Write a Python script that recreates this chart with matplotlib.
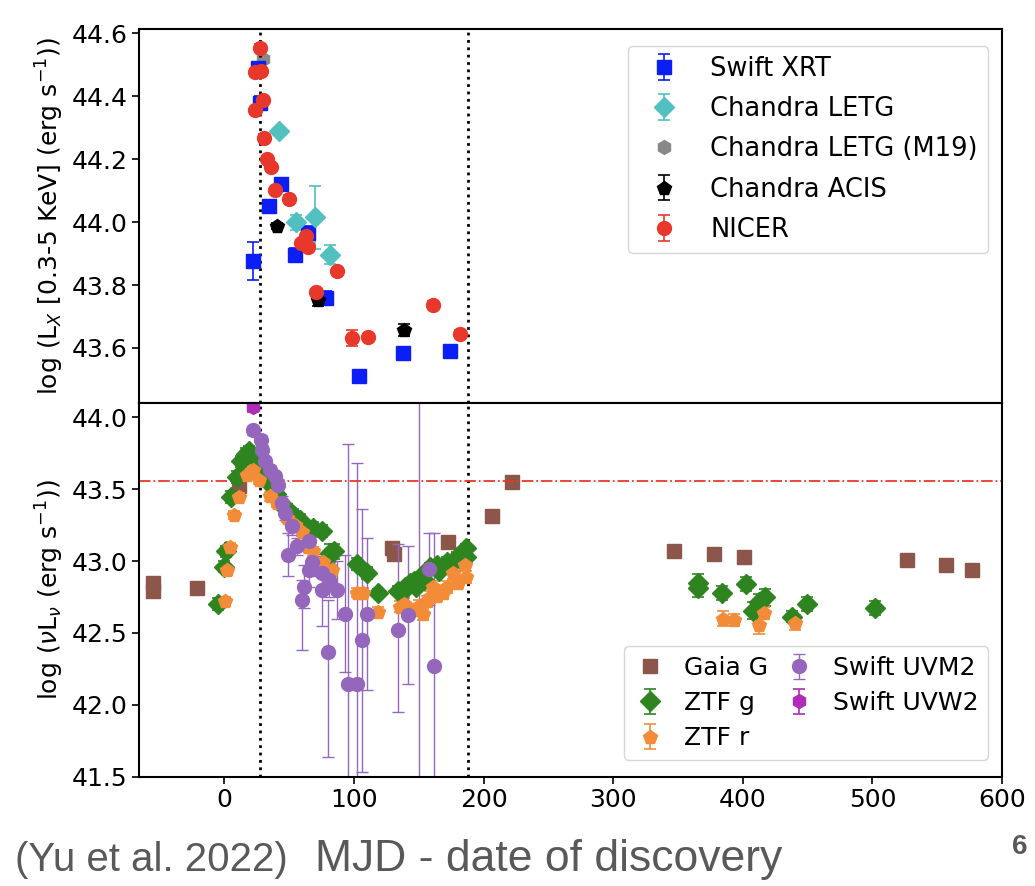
import matplotlib
matplotlib.use("Agg")
import matplotlib.pyplot as plt
import numpy as np

# ---- X-ray (top panel) ----
xrt_x = [22.1, 26.3, 27.5, 34.5, 43.5, 54.3, 64.3, 78.7, 103.9, 138.1, 174.2]
xrt_y = [43.877, 44.49, 44.38, 44.052, 44.12, 43.897, 43.967, 43.76, 43.51, 43.583, 43.59]
xrt_e = [0.06, 0.02, 0.02, 0.02, 0.02, 0.02, 0.02, 0.02, 0.02, 0.02, 0.02]

letg_x = [42.2, 55.1, 70.2, 81.6]
letg_y = [44.29, 43.999, 44.015, 43.897]
letg_e = [0.01, 0.025, 0.1, 0.03]

m19_x = [30.1]
m19_y = [44.52]

acis_x = [40.4, 72.1, 138.7]
acis_y = [43.988, 43.754, 43.657]
acis_e = [0.01, 0.02, 0.02]

nicer_x = [27.5, 23.7, 28.3, 29.6, 23.9, 30.6, 32.7, 36.0, 38.9, 49.7, 59.2, 63.0,
           64.8, 86.7, 70.5, 98.3, 110.6, 160.8, 181.9]
nicer_y = [44.555, 44.476, 44.48, 44.388, 44.356, 44.269, 44.2, 44.174, 44.102, 44.075,
           43.934, 43.955, 43.921, 43.844, 43.777, 43.632, 43.635, 43.738, 43.646]
nicer_e = [0.01] * 15 + [0.025, 0.01, 0.01, 0.01]

# ---- UV / optical (bottom panel) ----
gaia_x = [-55, -55, -21.3, 11.6, 129, 131, 172.4, 206.3, 222.2, 347.2, 377.9, 401.0,
          526.5, 556.9, 576.7]
gaia_y = [42.85, 42.79, 42.81, 43.524, 43.09, 43.05, 43.13, 43.316, 43.552, 43.067,
          43.05, 43.032, 43.009, 42.972, 42.94]

ztfg_x = [-4.6, 0.0, 1.1, 4.9, 9.6, 13.1, 16.5, 19.3, 22.9, 27.5, 30.0, 33.0, 37.0,
          40.0, 44.0, 48.0, 53.2, 58.4, 68.2, 75.6, 81.6, 84.6, 102.2, 109.9, 118.8,
          133.8, 136.0, 139.6, 143.3, 146.0, 148.0, 151.0, 154.0, 159.0, 163.9, 166.0,
          171.6, 175.0, 179.3, 183.0, 186.3, 186.8,
          365.5, 365.8, 384.3, 402.3, 407.7, 412.8, 417.2, 437.8, 449.4, 502.1]
ztfg_y = [42.703, 42.962, 43.067, 43.446, 43.585, 43.694, 43.745, 43.763, 43.724,
          43.66, 43.62, 43.58, 43.52, 43.47, 43.40, 43.36, 43.322, 43.288, 43.23, 43.211,
          43.056, 43.067, 42.979, 42.916, 42.777,
          42.795, 42.78, 42.82, 42.847, 42.86, 42.82, 42.89, 42.87, 42.96, 42.974, 42.93,
          42.997, 42.98, 43.032, 43.0, 43.09, 43.03,
          42.851, 42.81, 42.777, 42.84, 42.654, 42.714, 42.747, 42.614, 42.70, 42.673]
ztfg_e = [0.04] * 20 + [0.06, 0.05, 0.04, 0.04, 0.03] + [0.03] * 17 + \
         [0.06, 0.06, 0.05, 0.05, 0.06, 0.06, 0.06, 0.04, 0.05, 0.05]

ztfr_x = [0.5, 2.3, 4.4, 7.5, 11.3, 17.3, 22.4, 27.0, 35.3, 40.4, 48.1, 54.6, 59.7,
          64.8, 68.7, 76.4, 82.9, 102.2, 107.3, 118.8,
          135.6, 139.0, 142.0, 147.1, 150.0, 153.5, 156.0, 158.5, 161.3, 164.0, 169.0,
          172.0, 176.7, 180.0, 185.7, 186.5,
          384.6, 393.5, 412.3, 416.7, 440.6]
ztfr_y = [42.719, 42.935, 43.095, 43.322, 43.446, 43.601, 43.636, 43.566, 43.45, 43.404,
          43.30, 43.253, 43.206, 43.10, 43.067, 42.997, 42.94, 42.781, 42.78, 42.649,
          42.684, 42.70, 42.66, 42.661, 42.69, 42.63, 42.72, 42.75, 42.823, 42.76, 42.777,
          42.82, 42.916, 42.85, 42.974, 42.89,
          42.60, 42.589, 42.556, 42.638, 42.572]
ztfr_e = [0.03] * 20 + [0.04] * 16 + [0.05, 0.04, 0.06, 0.04, 0.05]

uvm2_x = [22.4, 28.1, 28.9, 31.4, 35.3, 39.1, 41.7, 44.3, 46.8, 52.0, 49.4, 55.9,
          59.7, 61.5, 65.6, 65.6, 67.9, 75.6, 75.6, 80.8, 80.2, 86.7, 93.1, 95.7,
          102.6, 106.5, 110.3, 133.8, 142.0, 150.5, 158.0, 161.8]
uvm2_y = [43.91, 43.845, 43.775, 43.694, 43.636, 43.589, 43.531, 43.404, 43.334, 43.241,
          43.044, 43.102, 42.73, 42.823, 43.143, 42.94, 42.997, 42.916, 42.8, 42.87,
          42.37, 42.80, 42.63, 42.146, 42.146, 42.452, 42.63, 42.52, 42.626, 41.2,
          42.944, 42.273]
uvm2_lo = [0.03, 0.03, 0.03, 0.03, 0.03, 0.03, 0.04, 0.05, 0.05, 0.06, 0.15, 0.06,
           0.35, 0.15, 0.08, 0.12, 0.1, 0.12, 0.25, 0.12, 0.73, 0.2, 0.4, 1.67, 1.54,
           0.92, 0.53, 0.57, 0.48, 3.2, 0.25, 0.93]
uvm2_hi = [0.03, 0.03, 0.03, 0.03, 0.03, 0.03, 0.04, 0.05, 0.05, 0.06, 0.15, 0.06,
           0.14, 0.15, 0.08, 0.12, 0.1, 0.12, 0.25, 0.12, 0.36, 0.2, 0.41, 1.67, 1.54,
           0.91, 0.53, 0.6, 0.48, 3.2, 0.25, 0.92]

uvw2_x = [22.4]
uvw2_y = [44.07]

t_lines = [27.3, 187.8]
lim_line = 43.56

plt.rcParams["font.family"] = "DejaVu Sans"
plt.rcParams["axes.linewidth"] = 1.5

fig = plt.figure(figsize=(10.35, 8.86), dpi=100)
ax1 = fig.add_axes([0.1346, 0.5451, 0.8335, 0.4218])
ax2 = fig.add_axes([0.1346, 0.1234, 0.8335, 0.4217], sharex=ax1)

ms = 10
eb = dict(ls="none", capsize=4, elinewidth=1.2, capthick=1.2)

h_xrt = ax1.errorbar(xrt_x, xrt_y, yerr=xrt_e, fmt="s", color="#0a1ef5", ms=ms, label="Swift XRT", **eb)
h_letg = ax1.errorbar(letg_x, letg_y, yerr=letg_e, fmt="D", color="#52c0c0", ms=ms, label="Chandra LETG", **eb)
h_m19, = ax1.plot(m19_x, m19_y, "h", color="#888888", ms=ms, ls="none", label="Chandra LETG (M19)")
h_acis = ax1.errorbar(acis_x, acis_y, yerr=acis_e, fmt="p", color="black", ms=ms, label="Chandra ACIS", **eb)
h_nic = ax1.errorbar(nicer_x, nicer_y, yerr=nicer_e, fmt="o", color="#e8382b", ms=ms, label="NICER", **eb)

for t in t_lines:
    ax1.axvline(t, color="black", ls=":", lw=2)
    ax2.axvline(t, color="black", ls=":", lw=2)

ax1.set_ylim(43.425, 44.613)
ax1.set_yticks([43.6, 43.8, 44.0, 44.2, 44.4, 44.6])
ax1.tick_params(axis="x", bottom=False, labelbottom=False)
ax1.tick_params(axis="y", labelsize=18, length=5, width=1.2)
ax1.set_ylabel(r"log (L$_X$ [0.3-5 KeV] (erg s$^{-1}$))", fontsize=18)
hs = [h_xrt, h_letg, h_m19, h_acis, h_nic]
ax1.legend(hs, [h.get_label() for h in hs], loc="upper right", fontsize=18.5,
           bbox_to_anchor=(0.9985, 0.99), labelspacing=0.55)

h_gaia, = ax2.plot(gaia_x, gaia_y, "s", color="#8c564b", ms=ms, ls="none", label="Gaia G")
h_g = ax2.errorbar(ztfg_x, ztfg_y, yerr=ztfg_e, fmt="D", color="#2e8520", ms=ms, label="ZTF g", **eb)
h_r = ax2.errorbar(ztfr_x, ztfr_y, yerr=ztfr_e, fmt="p", color="#f28c38", ms=ms, label="ZTF r", **eb)
h_m2 = ax2.errorbar(uvm2_x, uvm2_y, yerr=[uvm2_lo, uvm2_hi], fmt="o", color="#9467bd", ms=ms,
                    label="Swift UVM2", ls="none", capsize=4, elinewidth=1, capthick=1)
h_w2 = ax2.errorbar(uvw2_x, uvw2_y, yerr=0.03, fmt="h", color="#b02cb8", ms=ms, label="Swift UVW2", **eb)
ax2.axhline(lim_line, color="#e8382b", ls="-.", lw=1.3)

ax2.set_xlim(-65.6, 600)
ax2.set_ylim(41.5, 44.1)
ax2.set_yticks([41.5, 42.0, 42.5, 43.0, 43.5, 44.0])
ax2.set_xticks([0, 100, 200, 300, 400, 500, 600])
ax2.tick_params(labelsize=18, length=5, width=1.2)
ax2.set_ylabel(r"log ($\nu$L$_\nu$ (erg s$^{-1}$))", fontsize=18)
hs2 = [h_gaia, h_g, h_r, h_m2, h_w2]
ax2.legend(hs2, [h.get_label() for h in hs2], loc="lower right", ncol=2, fontsize=18,
           bbox_to_anchor=(0.9985, 0.01), columnspacing=0.6, labelspacing=0.45,
           handlelength=1.3, handletextpad=0.7)

fig.text(0.0145, 0.017, "(Yu et al. 2022)", fontsize=29, color="#595959",
         family="Liberation Sans", va="baseline")
fig.text(0.304, 0.017, "MJD - date of discovery", fontsize=32, color="#595959",
         family="Liberation Sans", va="baseline")
fig.text(0.985, 0.044, "6", fontsize=20, color="#595959", weight="bold",
         family="Liberation Sans", ha="center", va="center")

fig.savefig("out.png", dpi=100)
